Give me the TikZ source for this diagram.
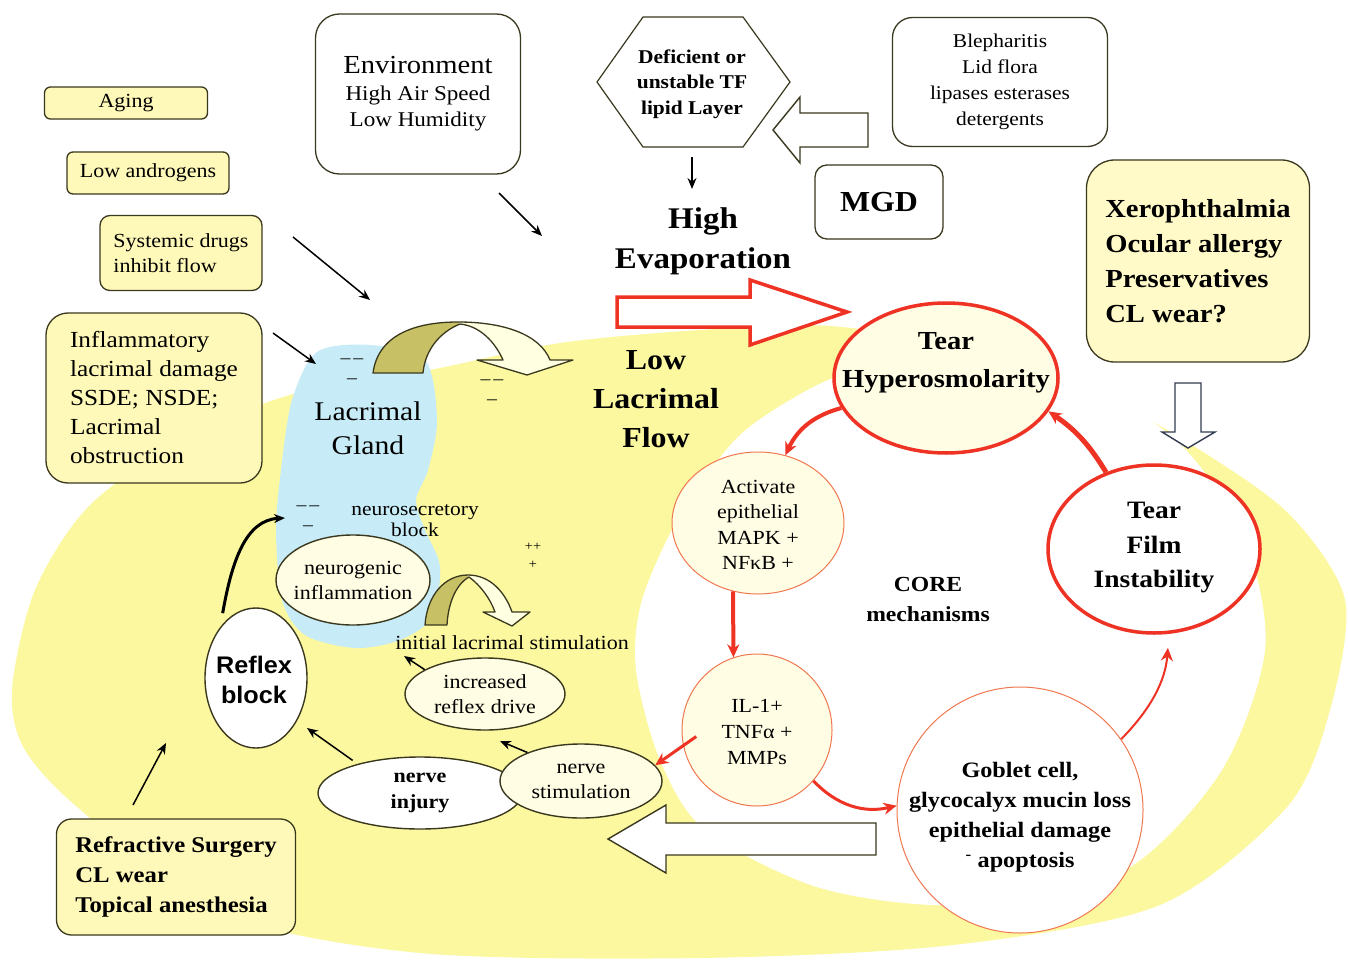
\documentclass[tikz,border=0pt]{standalone}
\usepackage{fontspec}
\setmainfont{Liberation Serif}[FakeStretch=1.1]
\newfontfamily\arialsans{Liberation Sans}[FakeStretch=1.05]
\usetikzlibrary{shapes.geometric,arrows.meta}
\definecolor{bgyellow}{RGB}{252,248,160}
\definecolor{boxyellow}{RGB}{255,249,185}
\definecolor{paleyel}{RGB}{255,253,228}
\definecolor{glandblue}{RGB}{200,236,247}
\definecolor{olivedk}{RGB}{58,56,30}
\definecolor{tearred}{RGB}{238,50,36}
\definecolor{corered}{RGB}{240,120,80}
\definecolor{archolive}{RGB}{200,192,100}
\definecolor{archlight}{RGB}{255,255,225}
\definecolor{hollowblue}{RGB}{50,60,80}
\newcommand{\fsz}[2]{\fontsize{#1}{#2}\selectfont}
\newcommand{\bigarch}{(373,373) .. controls (378,335) and (415,322) .. (458,322) .. controls (505,322) and (540,335) .. (550,360) -- (573,360) -- (527,375) -- (477,360) -- (503,360) .. controls (495,342) and (480,326) .. (460,324) .. controls (440,332) and (425,350) .. (423,373) -- cycle}
\newcommand{\smallarch}{(425,625) .. controls (427,595) and (445,575) .. (468,575) .. controls (490,575) and (505,592) .. (512,612) -- (530,612) -- (512,626) -- (483,612) -- (495,612) .. controls (490,598) and (480,585) .. (469,577) .. controls (455,585) and (448,605) .. (447,625) -- cycle}

\begin{document}
\begin{tikzpicture}[x=1pt,y=-1pt]
\tikzstyle{ybox}=[draw=olivedk, fill=boxyellow, rounded corners=6, line width=1.3pt, inner sep=0pt]
\tikzstyle{wbox}=[ybox, fill=white]
\tikzstyle{tearell}=[ellipse, draw=tearred, line width=3.5pt, fill=paleyel, inner sep=0pt]
\tikzstyle{coreell}=[ellipse, draw=corered, line width=1pt, fill=paleyel, inner sep=0pt]
\tikzstyle{nerveell}=[ellipse, draw=olivedk, line width=1.4pt, inner sep=0pt]
\tikzstyle{blk}=[-{Stealth[length=11pt,width=9pt]}, line width=1.5pt, black]
\tikzstyle{redarr}=[-{Stealth[length=13pt,width=12pt]}, line width=4pt, tearred]
\tikzstyle{hollow}=[draw=olivedk, fill=white, line width=1.4pt, line join=miter]
\useasboundingbox (0,0) rectangle (1348,960);
\fill[white] (0,0) rectangle (1348,960);

\fill[bgyellow] plot[smooth cycle] coordinates {(12,690) (35,590) (90,505) (190,435) (300,392) (430,370) (560,343) (700,330) (830,326) (980,350) (1110,400) (1200,450) (1290,515) (1345,600) (1330,710) (1287,807) (1160,905) (953,945) (700,958) (420,953) (220,913) (83,812) (25,750)};
\fill[white] plot[smooth cycle] coordinates {(735,440) (680,515) (642,600) (636,670) (660,760) (705,830) (820,888) (960,905) (1120,873) (1220,773) (1265,650) (1245,540) (1183,447) (1090,385) (960,350) (850,372) (790,400)};
\fill[glandblue] plot[smooth cycle] coordinates {(317,352) (370,345) (425,360) (437,420) (428,470) (416,500) (425,530) (440,567) (432,617) (400,640) (355,648) (305,635) (282,600) (276,530) (281,470) (292,400)};

\fill[archlight] \bigarch;
\begin{scope}
\clip (360,300) rectangle (459,380);
\fill[archolive] \bigarch;
\end{scope}
\draw[olivedk, line width=1.3pt, line join=round] \bigarch;
\fill[archlight] \smallarch;
\begin{scope}
\clip (415,560) rectangle (468,630);
\fill[archolive] \smallarch;
\end{scope}
\draw[olivedk, line width=1.3pt, line join=round] \smallarch;

\node[ybox, minimum width=163, minimum height=32, font=\fsz{20}{24}] (aging) at (126,103) {Aging};
\node[ybox, minimum width=162, minimum height=42, font=\fsz{20}{24}] (andro) at (148,173) {Low androgens};
\node[ybox, minimum width=162, minimum height=75, rounded corners=10, align=left, font=\fsz{20}{25}] (drugs) at (181,253) {Systemic drugs\\inhibit flow};
\node[ybox, minimum width=216, minimum height=170, rounded corners=22, align=left, font=\fsz{23}{29}] (inflam) at (154,398) {Inflammatory\\lacrimal damage\\SSDE; NSDE;\\Lacrimal\\obstruction};
\node[wbox, minimum width=205, minimum height=160, rounded corners=24, align=center, font=\fsz{21}{26}] (env) at (418,94) {{\fsz{26}{30}Environment}\\[1pt]High Air Speed\\Low Humidity};

\draw[olivedk, fill=white, line width=1.2pt] (597,82) -- (643,17) -- (743,17) -- (790,82) -- (743,147) -- (643,147) -- cycle;
\node[font=\bfseries\fsz{19.5}{25.5}, align=center] (lipid) at (692,84) {Deficient or\\unstable TF\\lipid Layer};
\node[font=\bfseries\fsz{30}{40}, align=center] (evap) at (703,241) {High\\Evaporation};
\coordinate (lipidout) at (692,157);
\coordinate (evapin) at (692,189);
\draw[blk, line width=1.3pt] (lipidout) -- (evapin);

\node[wbox, minimum width=215, minimum height=129, rounded corners=20, align=center, font=\fsz{19.5}{26}] (bleph) at (1000,82) {Blepharitis\\Lid flora\\lipases esterases\\detergents};
\node[wbox, minimum width=128, minimum height=74, rounded corners=12, font=\bfseries\fsz{29}{34}] (mgd) at (879,202) {MGD};
\draw[hollow] (868,113) -- (800,113) -- (800,97) -- (773,130) -- (800,163) -- (800,147) -- (868,147) -- cycle;

\node[ybox, fill=boxyellow!80!white, minimum width=223, minimum height=202, rounded corners=28, align=left, font=\bfseries\fsz{26}{35}] (xero) at (1198,261) {Xerophthalmia\\Ocular allergy\\Preservatives\\CL wear?};
\draw[hollow, draw=hollowblue] (1175,383) -- (1201,383) -- (1201,432) -- (1215,432) -- (1188,448) -- (1162,432) -- (1175,432) -- cycle;

\draw[tearred, fill=white, line width=3.5pt, line join=miter] (617,297) -- (750,297) -- (750,280) -- (847,312) -- (750,345) -- (750,327) -- (617,327) -- cycle;

\node[font=\bfseries\fsz{29}{39}, align=center] (llf) at (656,399) {Low\\Lacrimal\\Flow};
\node[font=\fsz{27}{34}, align=center] (glandtxt) at (368,428) {Lacrimal\\Gland};
\node[font=\fsz{18}{20}, align=center] (minusa) at (352,371) {\textendash\,\textendash\\\textendash};
\node[font=\fsz{18}{20}, align=center] (minusb) at (492,392) {\textendash\,\textendash\\\textendash};
\node[font=\fsz{18}{20}, align=center] (minusc) at (308,518) {\textendash\,\textendash\\\textendash};
\node[font=\fsz{13}{18}, align=center] (plus) at (533,556) {++\\+};
\node[font=\fsz{19.5}{21}, align=center] (block) at (415,521) {neurosecretory\\block};

\node[nerveell, fill=paleyel, minimum width=154, minimum height=90] (neuro) at (353,580) {};
\node[font=\fsz{20}{25}, align=center] (neurotxt) at (neuro) {neurogenic\\inflammation};
\node[font=\fsz{20}{24}] (init) at (512,643) {initial lacrimal stimulation};
\node[nerveell, fill=paleyel, minimum width=160, minimum height=72] (incr) at (485,694) {};
\node[font=\fsz{20}{25}, align=center] (incrtxt) at (incr) {increased\\reflex drive};
\node[nerveell, fill=white, minimum width=102, minimum height=140] (reflex) at (256,678) {};
\node[font=\arialsans\bfseries\fsz{24}{30}, align=center] (reflextxt) at (254,680) {Reflex\\block};
\node[nerveell, fill=white, minimum width=204, minimum height=72] (ninj) at (420,793) {};
\node[font=\bfseries\fsz{20}{26}, align=center] (ninjtxt) at (ninj) {nerve\\injury};
\node[nerveell, fill=paleyel, minimum width=162, minimum height=74] (nstim) at (581,781) {};
\node[font=\fsz{20}{25}, align=center] (nstimtxt) at (nstim) {nerve\\stimulation};
\draw[hollow] (876,823) -- (666,823) -- (666,805) -- (608,839) -- (666,873) -- (666,855) -- (876,855) -- cycle;
\node[ybox, minimum width=239, minimum height=116, rounded corners=15, align=left, font=\bfseries\fsz{22.5}{30}] (refr) at (176,877) {Refractive Surgery\\CL wear\\Topical anesthesia};

\node[tearell, minimum width=224, minimum height=150] (hyper) at (946,378) {};
\node[font=\bfseries\fsz{26}{38}, align=center] (hypertxt) at (946,363) {Tear\\Hyperosmolarity};
\node[tearell, fill=white, minimum width=212, minimum height=168] (film) at (1154,549) {};
\node[font=\bfseries\fsz{25}{34.5}, align=center] (filmtxt) at (1154,548) {Tear\\Film\\Instability};
\node[coreell, minimum width=172, minimum height=142] (act) at (758,523) {};
\node[font=\fsz{20}{25.5}, align=center] (acttxt) at (758,525) {Activate\\epithelial\\MAPK +\\NFκB +};
\node[coreell, minimum width=150, minimum height=152] (il) at (757,730) {};
\node[font=\fsz{20}{26}, align=center] (iltxt) at (757,732) {IL-1+\\TNFα +\\MMPs};
\node[coreell, fill=white, minimum width=246, minimum height=246] (goblet) at (1020,810) {};
\node[font=\bfseries\fsz{22}{30}, align=center] (gobtxt) at (1020,817) {Goblet cell,\\glycocalyx mucin loss\\epithelial damage\\\textsuperscript{-} apoptosis};
\node[font=\bfseries\fsz{21.5}{30}, align=center] (core) at (928,599) {CORE\\mechanisms};

\draw[redarr, line width=5pt] (film.122) to[bend right=12] (hyper.-18);
\draw[redarr] (hyper.196) to[bend right=25] (act.68);
\draw[redarr] (act.250) -- (il.108);
\draw[redarr, line width=3pt, shorten <=-16pt] (il.192) -- (nstim.12);
\draw[redarr, line width=3pt] (il.-42) to[bend right=30] (goblet.178);
\draw[redarr, line width=2pt, shorten >=14pt] (goblet.35) to[bend right=20] (film.-80);

\coordinate (envA) at (499,193);
\coordinate (envB) at (542,236);
\draw[blk] (envA) -- (envB);
\coordinate (drugsA) at (293,237);
\coordinate (drugsB) at (370,300);
\draw[blk] (drugsA) -- (drugsB);
\coordinate (inflamA) at (273,333);
\coordinate (inflamB) at (316,364);
\draw[blk] (inflamA) -- (inflamB);
\coordinate (glandin) at (285,518);
\draw[blk, line width=3pt, shorten <=14pt] (reflex.125) .. controls (232,560) and (246,520) .. (glandin);
\coordinate (refrA) at (133,805);
\coordinate (refrB) at (166,743);
\draw[blk] (refrA) -- (refrB);
\coordinate (reflexin) at (307,728);
\draw[blk, shorten <=6pt] (ninj.155) -- (reflexin);
\coordinate (incrin) at (500,741);
\draw[blk] (nstim.152) -- (incrin);
\coordinate (initin) at (404,656);
\draw[blk] (incr.158) -- (initin);
\end{tikzpicture}
\end{document}
